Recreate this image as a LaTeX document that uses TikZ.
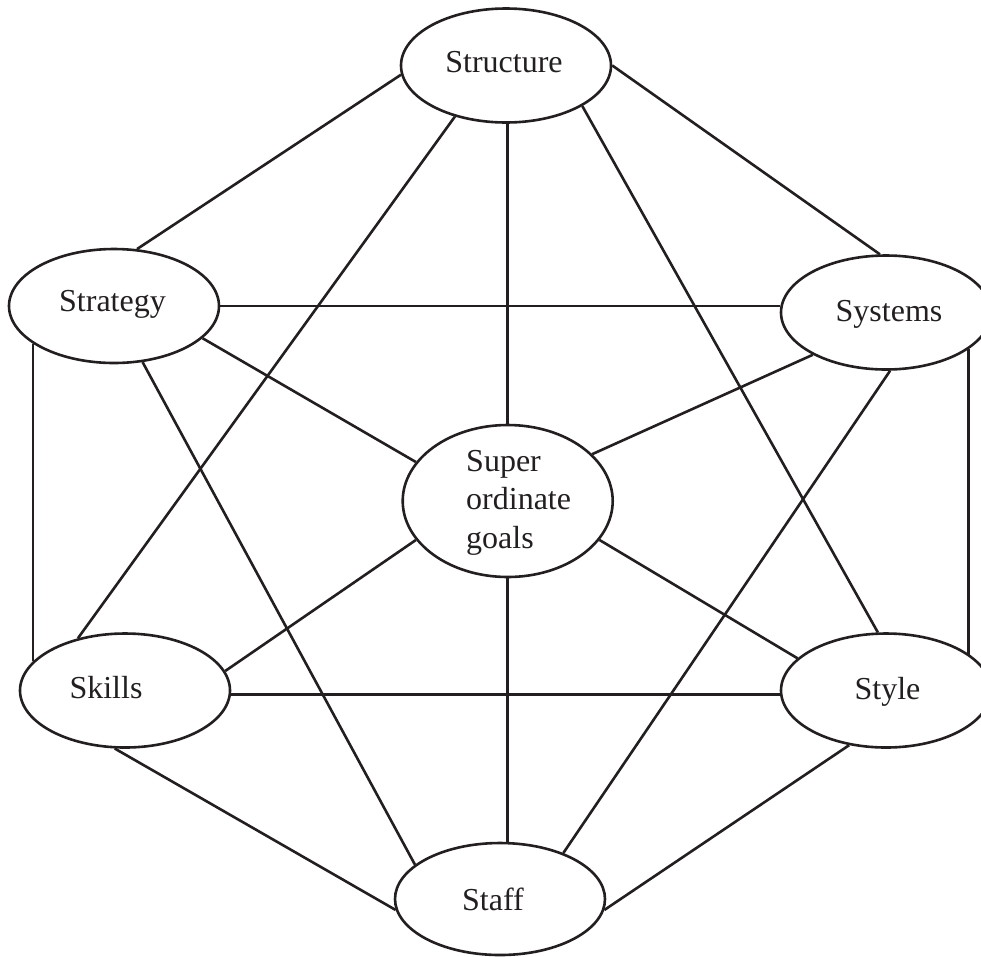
\documentclass[tikz,border=0pt]{standalone}
\usepackage{fontspec}
\setmainfont{Liberation Serif}
\usetikzlibrary{shapes.geometric}
\definecolor{ink}{RGB}{35,31,32}
\begin{document}
\begin{tikzpicture}[x=1pt,y=-1pt,
  oval/.style={draw=ink, ellipse, line width=2.6pt, inner sep=0pt,
               minimum width=210pt, minimum height=114pt},
  tag/.style={inner sep=0pt, text=ink, font=\fontsize{32}{38.3}\selectfont, anchor=base},
  link/.style={draw=ink, line width=2.6pt}]
\useasboundingbox (0,0) rectangle (981,956);
\clip (0,0) rectangle (981,956);

% the seven elements
\node[oval] (structure) at (506,65.5) {};
\node[oval] (strategy)  at (114,306) {};
\node[oval] (systems)   at (886,312.5) {};
\node[oval, minimum height=152pt] (super) at (507.7,501) {};
\node[oval] (skills)    at (125,690.5) {};
\node[oval] (style)     at (886,690.5) {};
\node[oval, minimum height=112pt] (staff) at (500,899) {};

% labels
\node[tag] (structure-t) at (504,72.7) {Structure};
\node[tag] (strategy-t)  at (112.5,311.7) {Strategy};
\node[tag] (systems-t)   at (889,321) {Systems};
\node[tag] (skills-t)    at (106,698.3) {Skills};
\node[tag] (style-t)     at (887.5,699) {Style};
\node[tag] (staff-t)     at (493,910) {Staff};
\node[tag, align=left, anchor=west] (super-t) at (466,502.7) {Super\\ordinate\\goals};

% links between the elements
\draw[link] (structure.185) -- (strategy.68);
\draw[link] (structure.0) -- (systems.96);
\draw[link] (super.north) -- (super.north |- structure.south);
\draw[link] (structure.225) -- (skills.132);
\draw[link] (structure.332) -- (style.98);
\draw[link] (strategy.east) -- (strategy.east -| systems.west);
\draw[link] (strategy.340) -- (super.157);
\draw[link] (strategy.297) -- (staff.158);
\draw[link] (strategy.205) -- (strategy.205 |- skills.162);
\draw[link] (systems.210) -- (super.29);
\draw[link] (systems.274) -- (staff.36);
\draw[link] (systems.336) -- (systems.336 |- style.22);
\draw[link] (super.203) -- (skills.11);
\draw[link] (super.337) -- (style.160);
\draw[link] (super.south) -- (super.south |- staff.north);
\draw[link] (skills.358) -- (skills.358 -| style.west);
\draw[link] (skills.260) -- (staff.186);
\draw[link] (style.236) -- (staff.354);
\end{tikzpicture}
\end{document}
